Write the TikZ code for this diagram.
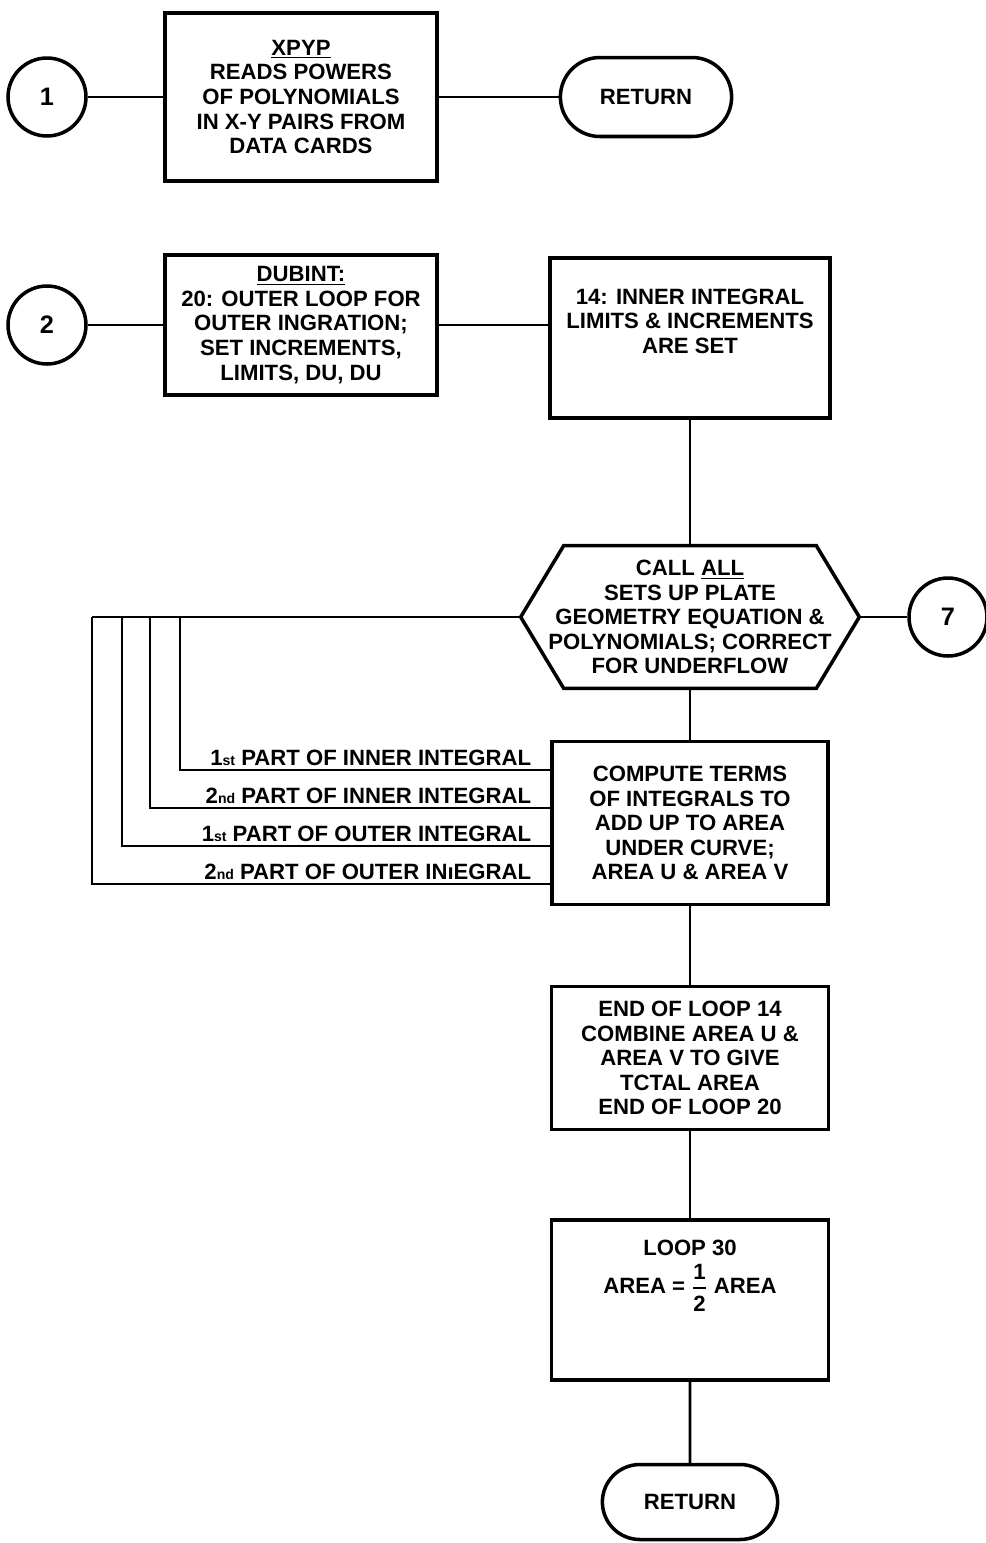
\documentclass[tikz,border=0pt]{standalone}
\usepackage{fontspec}
\setmainfont{Liberation Sans}
\usetikzlibrary{calc,shapes.misc}
\newcommand{\chartfont}{\fontsize{12.6}{14}\selectfont}

\tikzset{
  procbox/.style={draw,line width=2pt,align=center,font=\bfseries\chartfont,inner sep=2pt},
  connc/.style={draw,circle,line width=2pt,minimum size=1.56cm,font=\bfseries\Large},
  termnode/.style={draw,rounded rectangle,line width=2pt,font=\bfseries\chartfont},
  flowline/.style={line width=1.5pt},
  partlbl/.style={font=\bfseries\chartfont,anchor=south east,inner sep=1pt}
}

\begin{document}
\begin{tikzpicture}[x=0.02cm,y=-0.02cm]
\useasboundingbox (0,0) rectangle (986,1543);

% top row
\node[connc] (c1) at (47,97) {1};
\node[procbox,minimum width=5.44cm,minimum height=3.36cm] (xpyp) at (301,97)
  {\underline{XPYP}\\READS POWERS\\OF POLYNOMIALS\\IN X-Y PAIRS FROM\\DATA CARDS};
\node[termnode,minimum width=3.66cm,minimum height=1.58cm] (ret1) at (646,97) {RETURN};

\draw[flowline] (c1) -- (xpyp);
\draw[flowline] (xpyp) -- (ret1);

% second row
\node[connc] (c2) at (47,325) {2};
\node[procbox,minimum width=5.44cm,minimum height=2.8cm] (dubint) at (301,325)
  {\underline{DUBINT:}\\20: OUTER LOOP FOR\\OUTER INGRATION;\\SET INCREMENTS,\\LIMITS, DU, DU};
\node[procbox,minimum width=5.6cm,minimum height=3.2cm] (inlim) at (690,338)
  {14: INNER INTEGRAL\\LIMITS \& INCREMENTS\\ARE SET\\[5.5pt]\mbox{}};

\draw[flowline] (c2) -- (dubint);
\draw[flowline] (dubint.east) -- (dubint.east -| inlim.west);

% call ALL
\node[align=center,font=\bfseries\chartfont,minimum width=6.76cm,minimum height=2.84cm] (call) at (690,617)
  {CALL \underline{ALL}\\SETS UP PLATE\\GEOMETRY EQUATION \&\\POLYNOMIALS; CORRECT\\FOR UNDERFLOW};
\draw[line width=2pt] (call.west) -- ($(call.north west)+(43,0)$) -- ($(call.north east)+(-43,0)$)
  -- (call.east) -- ($(call.south east)+(-43,0)$) -- ($(call.south west)+(43,0)$) -- cycle;
\node[connc] (c7) at (948,617) {7};

\draw[flowline] (inlim) -- (call.north);
\draw[flowline] (call.east) -- (c7);

% compute terms
\node[procbox,minimum width=5.52cm,minimum height=3.26cm] (comp) at (690,823)
  {COMPUTE TERMS\\OF INTEGRALS TO\\ADD UP TO AREA\\UNDER CURVE;\\AREA U \& AREA V};
\draw[flowline] (call.south) -- (comp);

% return paths
\coordinate (v1) at (180,617);
\coordinate (v2) at (150,617);
\coordinate (v3) at (122,617);
\coordinate (v4) at (92,617);
\draw[flowline] (call.west) -- (v4);
\draw[flowline] (v1) |- ($(comp.west)+(0,-53)$);
\draw[flowline] (v2) |- ($(comp.west)+(0,-15)$);
\draw[flowline] (v3) |- ($(comp.west)+(0,23)$);
\draw[flowline] (v4) |- ($(comp.west)+(0,61)$);

\node[partlbl] (p1) at ($(comp.west)+(-17,-55)$) {1{\footnotesize st} PART OF INNER INTEGRAL};
\node[partlbl] (p2) at ($(comp.west)+(-17,-17)$) {2{\footnotesize nd} PART OF INNER INTEGRAL};
\node[partlbl] (p3) at ($(comp.west)+(-17,21)$) {1{\footnotesize st} PART OF OUTER INTEGRAL};
\node[partlbl] (p4) at ($(comp.west)+(-17,59)$) {2{\footnotesize nd} PART OF OUTER IN\i EGRAL};

% end of loops
\node[procbox,minimum width=5.54cm,minimum height=2.86cm] (endl) at (690,1058)
  {END OF LOOP 14\\COMBINE AREA U \&\\AREA V TO GIVE\\TCTAL AREA\\END OF LOOP 20};
\draw[flowline] (comp) -- (endl);

\node[procbox,minimum width=5.54cm,minimum height=3.2cm] (half) at (690,1300)
  {LOOP 30\\[4pt]AREA = $\displaystyle{\mbox{1}\above 1.2pt\mbox{2}}$ AREA\\[24pt]\mbox{}};
\draw[flowline] (endl) -- (half);

\node[termnode,minimum width=3.74cm,minimum height=1.5cm] (ret2) at (690,1502) {RETURN};
\draw[flowline] (half) -- (ret2);

\end{tikzpicture}
\end{document}
